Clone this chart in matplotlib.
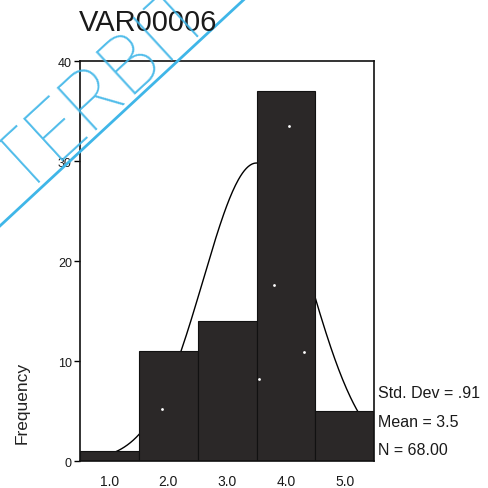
import numpy as np
import matplotlib.pyplot as plt

plt.rcParams["font.family"] = ["Liberation Sans", "DejaVu Sans"]

# histogram of VAR00006 (SPSS style)
bin_edges = [0.5, 1.5, 2.5, 3.5, 4.5, 5.5]
counts = [1, 11, 14, 37, 5]
x_ticks = [1.0, 2.0, 3.0, 4.0, 5.0]
y_ticks = [0, 10, 20, 30, 40]
mean = 3.5
std_dev = 0.91
n_total = 68

# small white specks visible on the bars of the scan
speck_x = [1.9, 3.55, 3.8, 4.05, 4.3]
speck_y = [5.2, 8.2, 17.6, 33.5, 10.9]

fig = plt.figure(figsize=(4.89, 4.89), dpi=100)
ax = fig.add_axes([0.164, 0.055, 0.601, 0.818])

widths = np.diff(bin_edges)
ax.bar(bin_edges[:-1], counts, width=widths, align="edge",
       color="#2b2828", edgecolor="#111111", linewidth=0.8, zorder=2)

# fitted normal curve
xs = np.linspace(bin_edges[0], bin_edges[-1], 300)
bw = widths[0]
curve = n_total * bw / (std_dev * np.sqrt(2 * np.pi)) * np.exp(-0.5 * ((xs - mean) / std_dev) ** 2)
ax.plot(xs, curve, color="black", linewidth=1.0, zorder=1)

ax.scatter(speck_x, speck_y, s=4, color="white", zorder=3, linewidths=0)

ax.set_xlim(bin_edges[0], bin_edges[-1])
ax.set_ylim(0, 40)
ax.set_xticks(x_ticks)
ax.set_xticklabels([f"{v:.1f}" for v in x_ticks], fontsize=10, color="#1a1a1a")
ax.set_yticks(y_ticks)
ax.set_yticklabels([str(v) for v in y_ticks], fontsize=9, color="#1a1a1a")
ax.tick_params(axis="x", length=0, pad=9)
ax.tick_params(axis="y", length=4, width=1, pad=2)
for s in ax.spines.values():
    s.set_linewidth(1.2)
    s.set_color("#111111")

fig.text(0.162, 0.952, "VAR00006", fontsize=21, ha="left", va="center", color="#1a1a1a")
fig.text(0.045, 0.176, "Frequency", fontsize=12.5, rotation=90, ha="center", va="center", color="#222222")

stats = [f"Std. Dev = {std_dev:.2f}".replace("0.", "."), f"Mean = {mean}", f"N = {n_total:.2f}"]
for i, t in enumerate(stats):
    fig.text(0.773, 0.195 - i * 0.058, t, fontsize=11.5, ha="left", va="center", color="#1a1a1a")

# cyan watermark from the scanned page
fig.text(0.045, 0.598, "TERBIT", fontsize=58, rotation=42.6, rotation_mode="anchor",
         ha="left", va="baseline", color="#3fb6e8", alpha=0.9,
         family="Roboto", fontweight="light")
fig.add_artist(plt.Line2D([0.0, 0.50], [0.536, 1.0], color="#3fb6e8", linewidth=2.0,
                          transform=fig.transFigure))

fig.savefig("out.png", dpi=100)
